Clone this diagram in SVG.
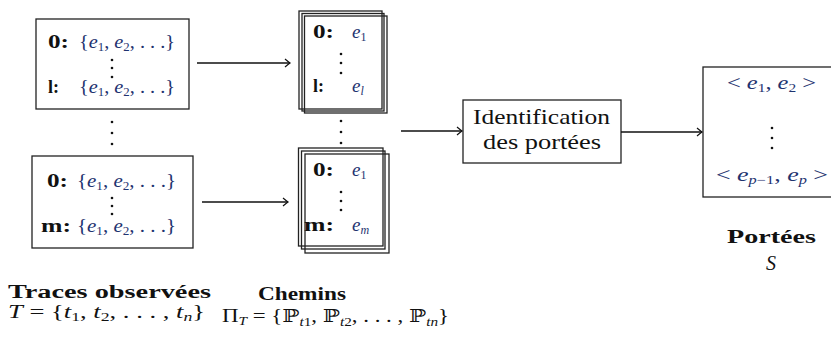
<svg xmlns="http://www.w3.org/2000/svg" width="831" height="358" viewBox="0 0 831 358">
<style>
text{font-family:"Liberation Serif","DejaVu Serif",serif;fill:#111}
.b{font-weight:bold}
.m{fill:#1e3370}
.i{font-style:italic}
.s{font-size:12px}
.box{fill:none;stroke:#222;stroke-width:1.3}
.c{fill:none;stroke:#111;stroke-width:1.4}
.dot{fill:#111}
</style>
<defs>
<marker id="ah" viewBox="-6 -5 8 10" markerWidth="8" markerHeight="10" refX="0" refY="0" orient="auto" markerUnits="userSpaceOnUse">
<path d="M -5 -4 Q -1.5 -1 0 0 Q -1.5 1 -5 4" fill="none" stroke="#111" stroke-width="1.2"/>
</marker>
<circle id="d" r="1.3" class="dot"/>
</defs>

<g id="traces1">
<rect class="box" x="36" y="19" width="153" height="90"/>
<text class="b" x="48" y="48" font-size="18" textLength="21" lengthAdjust="spacingAndGlyphs">0:</text>
<text class="m" x="79" y="48" font-size="19" textLength="96" lengthAdjust="spacingAndGlyphs">{<tspan class="i">e</tspan><tspan class="s" dy="3">1</tspan><tspan dy="-3">, </tspan><tspan class="i">e</tspan><tspan class="s" dy="3">2</tspan><tspan dy="-3">, . . .}</tspan></text>
<use href="#d" x="112" y="60"/><use href="#d" x="112" y="68"/><use href="#d" x="112" y="77"/>
<text class="b" x="48" y="93" font-size="18">l:</text>
<text class="m" x="79" y="93" font-size="19" textLength="96" lengthAdjust="spacingAndGlyphs">{<tspan class="i">e</tspan><tspan class="s" dy="3">1</tspan><tspan dy="-3">, </tspan><tspan class="i">e</tspan><tspan class="s" dy="3">2</tspan><tspan dy="-3">, . . .}</tspan></text>
</g>

<g id="traces-dots">
<use href="#d" x="112" y="122"/><use href="#d" x="112" y="133"/><use href="#d" x="112" y="144"/>
</g>

<g id="traces2">
<rect class="box" x="32" y="156" width="161" height="92"/>
<text class="b" x="47" y="187" font-size="18" textLength="21" lengthAdjust="spacingAndGlyphs">0:</text>
<text class="m" x="77" y="187" font-size="19" textLength="99" lengthAdjust="spacingAndGlyphs">{<tspan class="i">e</tspan><tspan class="s" dy="3">1</tspan><tspan dy="-3">, </tspan><tspan class="i">e</tspan><tspan class="s" dy="3">2</tspan><tspan dy="-3">, . . .}</tspan></text>
<use href="#d" x="112" y="198"/><use href="#d" x="112" y="206"/><use href="#d" x="112" y="214"/>
<text class="b" x="41" y="232" font-size="18" textLength="30" lengthAdjust="spacingAndGlyphs">m:</text>
<text class="m" x="77" y="232" font-size="19" textLength="99" lengthAdjust="spacingAndGlyphs">{<tspan class="i">e</tspan><tspan class="s" dy="3">1</tspan><tspan dy="-3">, </tspan><tspan class="i">e</tspan><tspan class="s" dy="3">2</tspan><tspan dy="-3">, . . .}</tspan></text>
</g>

<g id="chemins1">
<rect class="box" x="299" y="11" width="83" height="98"/>
<rect class="box" x="302" y="13.5" width="82" height="97.5"/>
<rect class="box" x="304.5" y="16" width="82.5" height="97"/>
<text class="b" x="313" y="38" font-size="18" textLength="21" lengthAdjust="spacingAndGlyphs">0:</text>
<text class="m" x="352" y="38" font-size="19"><tspan class="i">e</tspan><tspan class="s" dy="3">1</tspan></text>
<use href="#d" x="341" y="54"/><use href="#d" x="341" y="63"/><use href="#d" x="341" y="73"/>
<text class="b" x="313" y="92" font-size="18">l:</text>
<text class="m" x="352" y="92" font-size="19"><tspan class="i">e</tspan><tspan class="s i" dy="3">l</tspan></text>
</g>

<g id="chemins-dots">
<use href="#d" x="341" y="121"/><use href="#d" x="341" y="132"/><use href="#d" x="341" y="143"/>
</g>

<g id="chemins2">
<rect class="box" x="298.5" y="148" width="84.5" height="98"/>
<rect class="box" x="301.5" y="151" width="83.5" height="98"/>
<rect class="box" x="305" y="154" width="84" height="99"/>
<text class="b" x="313" y="176" font-size="18" textLength="21" lengthAdjust="spacingAndGlyphs">0:</text>
<text class="m" x="352" y="176" font-size="19"><tspan class="i">e</tspan><tspan class="s" dy="3">1</tspan></text>
<use href="#d" x="341" y="192"/><use href="#d" x="341" y="201"/><use href="#d" x="341" y="210"/>
<text class="b" x="304" y="231" font-size="18" textLength="30" lengthAdjust="spacingAndGlyphs">m:</text>
<text class="m" x="352" y="231" font-size="19"><tspan class="i">e</tspan><tspan class="s i" dy="3">m</tspan></text>
</g>

<g id="identification">
<rect class="box" x="463" y="100" width="158" height="63"/>
<text x="473" y="124" font-size="21" textLength="137" lengthAdjust="spacingAndGlyphs">Identification</text>
<text x="483" y="149" font-size="21" textLength="118" lengthAdjust="spacingAndGlyphs">des portées</text>
</g>

<g id="portees">
<rect class="box" x="703" y="67" width="140" height="130"/>
<text class="m" x="727" y="89" font-size="19" textLength="89" lengthAdjust="spacingAndGlyphs">&lt; <tspan class="i">e</tspan><tspan class="s" dy="3">1</tspan><tspan dy="-3">, </tspan><tspan class="i">e</tspan><tspan class="s" dy="3">2</tspan><tspan dy="-3"> &gt;</tspan></text>
<use href="#d" x="772" y="128"/><use href="#d" x="772" y="138"/><use href="#d" x="772" y="148"/>
<text class="m" x="716" y="181" font-size="19" textLength="112" lengthAdjust="spacingAndGlyphs">&lt; <tspan class="i">e</tspan><tspan class="s" dy="3"><tspan class="i">p</tspan>−1</tspan><tspan dy="-3">, </tspan><tspan class="i">e</tspan><tspan class="s i" dy="3">p</tspan><tspan dy="-3"> &gt;</tspan></text>
</g>

<g id="connectors">
<line class="c" x1="197" y1="63" x2="290" y2="63" marker-end="url(#ah)"/>
<line class="c" x1="202" y1="202" x2="288" y2="202" marker-end="url(#ah)"/>
<line class="c" x1="401" y1="131" x2="462" y2="131" marker-end="url(#ah)"/>
<line class="c" x1="621" y1="132" x2="702" y2="132" marker-end="url(#ah)"/>
</g>

<g id="labels">
<text class="b" x="8" y="298" font-size="18" textLength="203" lengthAdjust="spacingAndGlyphs">Traces observées</text>
<text x="8" y="318" font-size="18" textLength="197" lengthAdjust="spacingAndGlyphs"><tspan class="i">T</tspan> = {<tspan class="i">t</tspan><tspan class="s" dy="3">1</tspan><tspan dy="-3">, </tspan><tspan class="i">t</tspan><tspan class="s" dy="3">2</tspan><tspan dy="-3">, . . . , </tspan><tspan class="i">t</tspan><tspan class="s i" dy="3">n</tspan><tspan dy="-3">}</tspan></text>
<text class="b" x="258" y="300" font-size="18" textLength="88" lengthAdjust="spacingAndGlyphs">Chemins</text>
<text x="222" y="322" font-size="18" textLength="227" lengthAdjust="spacingAndGlyphs">Π<tspan class="s i" dy="3">T</tspan><tspan dy="-3"> = {</tspan>ℙ<tspan class="s" dy="4"><tspan class="i">t</tspan>1</tspan><tspan dy="-4">, </tspan>ℙ<tspan class="s" dy="4"><tspan class="i">t</tspan>2</tspan><tspan dy="-4">, . . . , </tspan>ℙ<tspan class="s" dy="4"><tspan class="i">tn</tspan></tspan><tspan dy="-4">}</tspan></text>
<text class="b" x="727" y="243" font-size="19" textLength="89" lengthAdjust="spacingAndGlyphs">Portées</text>
<text class="i" x="771" y="270" font-size="20" text-anchor="middle">S</text>
</g>
</svg>
